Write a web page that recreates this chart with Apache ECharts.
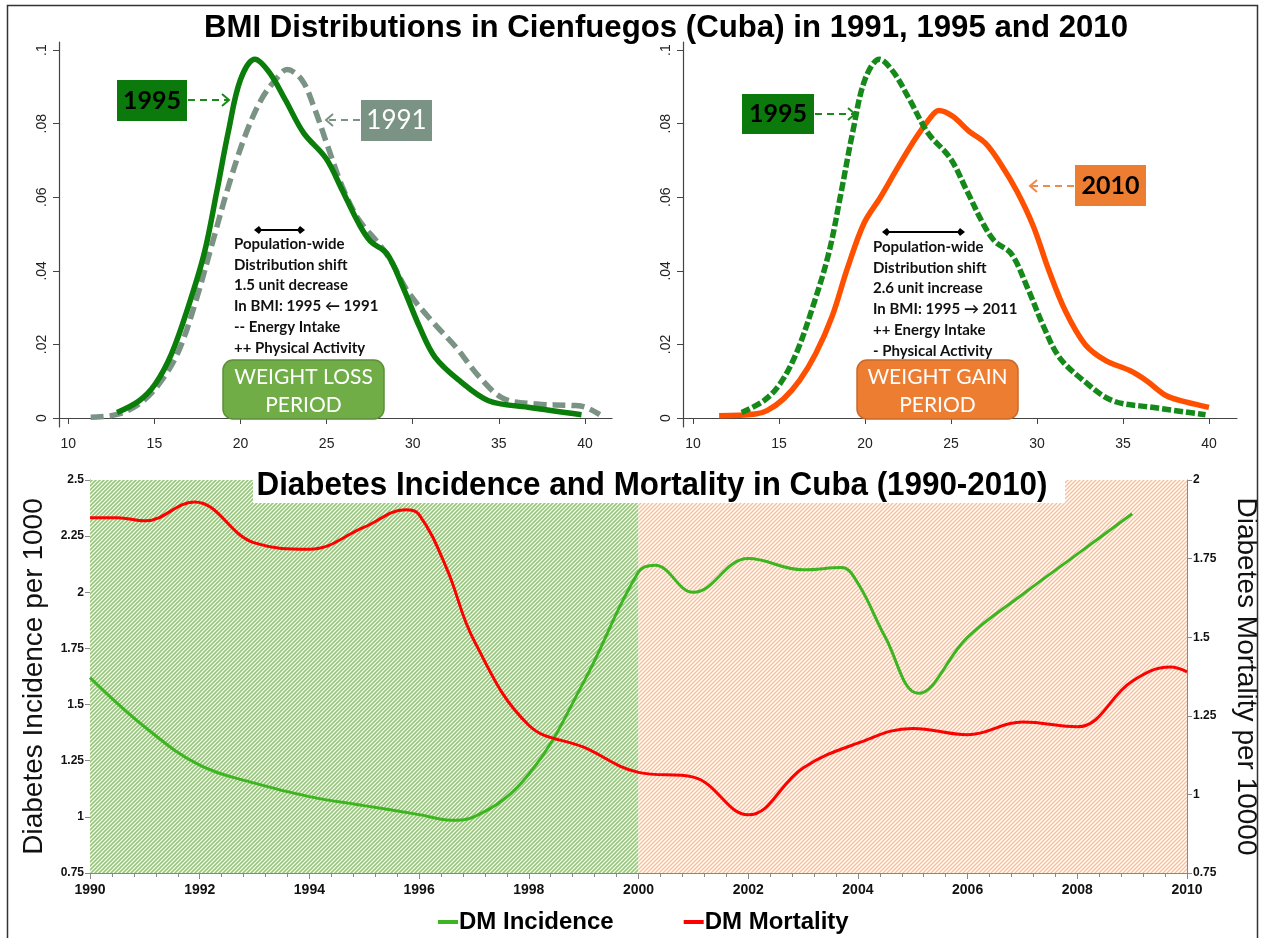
<!DOCTYPE html>
<html lang="en">
<head>
<meta charset="UTF-8">
<script src="https://cdn.jsdelivr.net/npm/echarts@6/dist/echarts.min.js"></script>
<style>
  html, body { margin: 0; padding: 0; background: #fff; }
  #main { width: 1263px; height: 938px; }
</style>
</head>
<body>
<div id="main"></div>
<script>
// BMI density curves (x = BMI, y = density)
var bmi1995X = [12.83, 14.12, 15.06, 16.0, 16.95, 17.89, 18.6, 19.3, 20.0, 20.84, 21.66, 22.6, 23.66, 24.96, 25.9, 26.85, 27.55, 28.5, 29.43, 30.4, 31.3, 32.7, 34.4, 36.7, 39.8];
var bmi1995Y = [0.0015, 0.0047, 0.0093, 0.0175, 0.030, 0.0447, 0.061, 0.078, 0.092, 0.0975, 0.094, 0.0865, 0.0775, 0.0706, 0.062, 0.053, 0.048, 0.0447, 0.0356, 0.0247, 0.0165, 0.0102, 0.0047, 0.0029, 0.0009];
var bmi1991X = [11.3, 12.95, 14.36, 15.54, 16.48, 17.42, 18.36, 19.3, 20.25, 21.2, 22.13, 22.7, 23.55, 24.25, 25.0, 25.9, 26.85, 28.0, 28.7, 29.67, 31.08, 32.5, 33.9, 35.3, 37.2, 39.3, 40.0, 40.86];
var bmi1991Y = [0.0002, 0.0011, 0.0047, 0.011, 0.019, 0.032, 0.0475, 0.063, 0.0765, 0.0865, 0.0925, 0.0947, 0.092, 0.0847, 0.0747, 0.063, 0.054, 0.0475, 0.043, 0.0347, 0.0265, 0.0193, 0.011, 0.0052, 0.0038, 0.0034, 0.003, 0.0009];
var bmi2010X = [11.52, 13.63, 14.3, 15.27, 16.2, 17.14, 18.08, 19.0, 19.95, 20.9, 21.83, 22.76, 23.7, 24.3, 25.1, 26.04, 27.0, 27.9, 28.85, 29.8, 30.7, 31.66, 32.8, 34.0, 35.4, 36.35, 37.5, 38.7, 40.0];
var bmi2010Y = [0.0006, 0.0011, 0.002, 0.0052, 0.0102, 0.0175, 0.0275, 0.041, 0.053, 0.060, 0.0675, 0.0747, 0.081, 0.0836, 0.082, 0.078, 0.0747, 0.069, 0.0615, 0.052, 0.040, 0.029, 0.020, 0.0156, 0.0129, 0.0102, 0.0061, 0.0043, 0.0029];
var bmiTicks = [10, 15, 20, 25, 30, 35, 40];
var densTicks = [0, 0.02, 0.04, 0.06, 0.08, 0.1];

// diabetes incidence (per 1000) and mortality (per 10000)
var incYears = [1990, 1991, 1992, 1993, 1994, 1995, 1996, 1996.6, 1997, 1998, 1999, 2000, 2000.3, 2001, 2002, 2003, 2003.7, 2004, 2004.5, 2005.1, 2006, 2007, 2008, 2009];
var incVals = [1.62, 1.40, 1.23, 1.15, 1.09, 1.05, 1.01, 0.985, 1.0, 1.19, 1.6, 2.09, 2.12, 2.0, 2.15, 2.10, 2.11, 2.04, 1.80, 1.55, 1.80, 1.99, 2.17, 2.35];
var mortYears = [1990, 1990.5, 1991, 1991.9, 1993, 1994, 1995, 1995.75, 1996, 1996.5, 1997, 1998, 1999, 2000, 2001, 2002, 2003, 2004, 2005, 2006, 2007, 2008, 2009, 2009.7, 2010];
var mortVals = [1.88, 1.88, 1.87, 1.93, 1.80, 1.78, 1.85, 1.905, 1.89, 1.72, 1.49, 1.22, 1.15, 1.07, 1.055, 0.935, 1.084, 1.163, 1.21, 1.19, 1.23, 1.215, 1.36, 1.405, 1.39];

function zip(xs, ys) {
    return xs.map(function (x, i) { return [x, ys[i]]; });
}

function hatch(stripe, w) {
    var c = document.createElement('canvas');
    c.width = 4; c.height = 4;
    var ctx = c.getContext('2d');
    ctx.fillStyle = '#fff';
    ctx.fillRect(0, 0, 4, 4);
    ctx.strokeStyle = stripe;
    ctx.lineWidth = w;
    ctx.beginPath();
    ctx.moveTo(-1, 5); ctx.lineTo(5, -1);
    ctx.moveTo(-1, 1); ctx.lineTo(1, -1);
    ctx.moveTo(3, 5); ctx.lineTo(5, 3);
    ctx.stroke();
    return c;
}

var sans = '"Liberation Sans", Arial, sans-serif';
var calib = 'Lato, "Open Sans", sans-serif';

function densX(idx, min, max) {
    return {
        type: 'value', gridIndex: idx, min: min, max: max,
        axisLine: { lineStyle: { color: '#444', width: 1.2 } },
        axisTick: { customValues: bmiTicks, length: 6, lineStyle: { color: '#444' } },
        axisLabel: { customValues: bmiTicks, color: '#222', fontSize: 14, fontFamily: sans, margin: 10 },
        splitLine: { show: false }
    };
}
function densY(idx) {
    return {
        type: 'value', gridIndex: idx, min: -0.00245, max: 0.1022,
        axisLine: { show: true, lineStyle: { color: '#444', width: 1.2 } },
        axisTick: { show: true, customValues: densTicks, length: 6, lineStyle: { color: '#444' } },
        axisLabel: {
            customValues: densTicks, rotate: 90, color: '#222', fontSize: 14,
            fontFamily: sans, margin: 10,
            formatter: function (v) { return v === 0 ? '0' : String(v).replace(/^0\./, '.'); }
        },
        splitLine: { show: false }
    };
}

function textLines(x, y0, lines) {
    return lines.map(function (t, i) {
        return {
            type: 'text', z: 100, x: x, y: y0 + i * 20.8,
            style: { text: t, font: 'bold 15px ' + calib, fill: '#111', textVerticalAlign: 'middle' }
        };
    });
}
function boxLabel(x, y, w, h, fill, text, color, weight, size) {
    return [
        { type: 'rect', z: 100, shape: { x: x, y: y, width: w, height: h }, style: { fill: fill } },
        { type: 'text', z: 101, x: x + w / 2, y: y + h / 2,
          style: { text: text, font: weight + ' ' + size + 'px ' + calib, fill: color, textAlign: 'center', textVerticalAlign: 'middle' } }
    ];
}
function dashArrow(x1, x2, y, color) {
    var d = x2 > x1 ? -1 : 1;
    return [
        { type: 'line', z: 100, shape: { x1: x1, y1: y, x2: x2, y2: y }, style: { stroke: color, lineWidth: 2, lineDash: [7, 5] } },
        { type: 'polyline', z: 100, shape: { points: [[x2 + d * 7, y - 6], [x2, y], [x2 + d * 7, y + 6]] }, style: { stroke: color, lineWidth: 2, fill: null } }
    ];
}
function dblArrow(x1, x2, y) {
    return [
        { type: 'line', z: 100, shape: { x1: x1 + 4, y1: y, x2: x2 - 4, y2: y }, style: { stroke: '#000', lineWidth: 2 } },
        { type: 'polygon', z: 100, shape: { points: [[x1, y], [x1 + 5, y - 4], [x1 + 8, y], [x1 + 5, y + 4]] }, style: { fill: '#000' } },
        { type: 'polygon', z: 100, shape: { points: [[x2, y], [x2 - 5, y - 4], [x2 - 8, y], [x2 - 5, y + 4]] }, style: { fill: '#000' } }
    ];
}
function periodBox(x, y, fill, stroke, l1) {
    return [
        { type: 'rect', z: 100, shape: { x: x, y: y, width: 161, height: 59, r: 10 }, style: { fill: fill, stroke: stroke, lineWidth: 1.5 } },
        { type: 'text', z: 101, x: x + 80.5, y: y + 17, style: { text: l1, font: '21px ' + calib, fill: '#fff', textAlign: 'center', textVerticalAlign: 'middle' } },
        { type: 'text', z: 101, x: x + 80.5, y: y + 45, style: { text: 'PERIOD', font: '21px ' + calib, fill: '#fff', textAlign: 'center', textVerticalAlign: 'middle' } }
    ];
}

var graphics = [].concat(
    [{ type: 'rect', z: 100, shape: { x: 7.5, y: 5.5, width: 1250, height: 945 }, style: { fill: null, stroke: '#333', lineWidth: 1.5 } },
     { type: 'text', z: 100, x: 666, y: 28, scaleX: 0.975, style: { text: 'BMI Distributions in Cienfuegos (Cuba) in 1991, 1995 and 2010', font: 'bold 32px ' + sans, fill: '#000', textAlign: 'center', textVerticalAlign: 'middle' } }],
    // left panel annotations
    boxLabel(117, 80, 70, 41, '#0b790b', '1995', '#000', 'bold', 25),
    dashArrow(188, 229, 100, '#1a8a1a'),
    boxLabel(361, 100, 71, 41, '#7a9384', '1991', '#fff', 'normal', 26),
    dashArrow(360, 326, 120, '#7a9384'),
    dblArrow(254, 305, 230),
    textLines(234, 244, ['Population-wide', 'Distribution shift', '1.5 unit decrease', 'In BMI: 1995 \u2190 1991', '-- Energy Intake', '++ Physical Activity']),
    periodBox(223, 360, '#70ad47', '#5b8f3a', 'WEIGHT LOSS'),
    // right panel annotations
    boxLabel(742, 94, 72, 40, '#0b790b', '1995', '#000', 'bold', 25),
    dashArrow(815, 855, 114, '#1a8a1a'),
    boxLabel(1075, 165, 71, 41, '#ed7d31', '2010', '#000', 'bold', 25),
    dashArrow(1074, 1030, 186, '#f08a4b'),
    dblArrow(882, 965, 232),
    textLines(873, 247, ['Population-wide', 'Distribution shift', '2.6 unit increase', 'In BMI: 1995 \u2192 2011', '++ Energy Intake', '- Physical Activity']),
    periodBox(857, 360, '#ed7d31', '#c8692a', 'WEIGHT GAIN'),
    // bottom title
    [{ type: 'rect', z: 100, shape: { x: 253, y: 463, width: 812, height: 40 }, style: { fill: '#fff' } },
     { type: 'text', z: 101, x: 652, y: 486, scaleX: 0.95, style: { text: 'Diabetes Incidence and Mortality in Cuba (1990-2010)', font: 'bold 33px ' + sans, fill: '#000', textAlign: 'center', textVerticalAlign: 'middle' } }]
);

var chart = echarts.init(document.getElementById('main'));
chart.setOption({
    animation: false,
    backgroundColor: '#fff',
    grid: [
        { left: 59, top: 42, width: 553, height: 385, outerBoundsMode: 'none' },
        { left: 683, top: 42, width: 554, height: 385, outerBoundsMode: 'none' },
        { left: 90, top: 480, width: 1097, height: 393, outerBoundsMode: 'none' }
    ],
    xAxis: [
        densX(0, 9.46, 41.57),
        densX(1, 9.42, 41.63),
        {
            type: 'value', gridIndex: 2, min: 1990, max: 2010, interval: 2,
            axisLine: { lineStyle: { color: '#888' } },
            axisTick: { length: 6, lineStyle: { color: '#888' } },
            minorTick: { show: true, splitNumber: 5, length: 4, lineStyle: { color: '#888' } },
            axisLabel: { color: '#111', fontSize: 14, fontWeight: 'bold', fontFamily: sans, margin: 10,
                         formatter: function (v) { return String(v); } },
            splitLine: { show: false }
        }
    ],
    yAxis: [
        densY(0),
        densY(1),
        {
            type: 'value', gridIndex: 2, min: 0.75, max: 2.5, interval: 0.25,
            name: 'Diabetes Incidence per 1000', nameLocation: 'middle', nameGap: 42, nameRotate: 90,
            nameTextStyle: { fontSize: 28, color: '#111', fontFamily: sans },
            axisLine: { show: true, lineStyle: { color: '#888' } },
            axisTick: { show: true, length: 5, lineStyle: { color: '#888' } },
            axisLabel: { color: '#111', fontSize: 12, fontWeight: 'bold', fontFamily: sans, margin: 6 },
            splitLine: { show: false }
        },
        {
            type: 'value', gridIndex: 2, position: 'right', min: 0.75, max: 2, interval: 0.25,
            name: 'Diabetes Mortality per 10000', nameLocation: 'middle', nameGap: 45, nameRotate: -90,
            nameTextStyle: { fontSize: 28, color: '#111', fontFamily: sans },
            axisLine: { show: true, lineStyle: { color: '#888' } },
            axisTick: { show: true, length: 5, lineStyle: { color: '#888' } },
            axisLabel: { color: '#111', fontSize: 12, fontWeight: 'bold', fontFamily: sans, margin: 6 },
            splitLine: { show: false }
        }
    ],
    legend: {
        data: ['DM Incidence', 'DM Mortality'],
        left: 433, top: 905, itemGap: 70, itemWidth: 20, itemHeight: 4, icon: 'rect',
        textStyle: { fontSize: 24, fontWeight: 'bold', color: '#000', fontFamily: sans, padding: [0, 0, 0, -4] }
    },
    graphic: graphics,
    series: [
        {
            name: '1991', type: 'line', xAxisIndex: 0, yAxisIndex: 0, data: zip(bmi1991X, bmi1991Y),
            smooth: 0.35, showSymbol: false, z: 3,
            lineStyle: { color: '#7a9384', width: 5.5, type: [13, 6] }
        },
        {
            name: '1995', type: 'line', xAxisIndex: 0, yAxisIndex: 0, data: zip(bmi1995X, bmi1995Y),
            smooth: 0.35, showSymbol: false, z: 4,
            lineStyle: { color: '#0a7d0a', width: 5.5 }
        },
        {
            name: '2010', type: 'line', xAxisIndex: 1, yAxisIndex: 1, data: zip(bmi2010X, bmi2010Y),
            smooth: 0.35, showSymbol: false, z: 3,
            lineStyle: { color: '#ff5000', width: 5.5 }
        },
        {
            name: '1995 ', type: 'line', xAxisIndex: 1, yAxisIndex: 1, data: zip(bmi1995X, bmi1995Y),
            smooth: 0.35, showSymbol: false, z: 4,
            lineStyle: { color: '#15891a', width: 5.5, type: [9, 3] }
        },
        {
            name: 'periods', type: 'line', xAxisIndex: 2, yAxisIndex: 2, data: [], z: 1,
            markArea: {
                silent: true,
                data: [
                    [{ xAxis: 1990, itemStyle: { color: { image: hatch('#96c679', 1.6), repeat: 'repeat' } } }, { xAxis: 2000 }],
                    [{ xAxis: 2000, itemStyle: { color: { image: hatch('#f6bf9b', 1.4), repeat: 'repeat' } } }, { xAxis: 2010 }]
                ]
            }
        },
        {
            name: 'DM Incidence', type: 'line', xAxisIndex: 2, yAxisIndex: 2, data: zip(incYears, incVals),
            smooth: 0.4, showSymbol: false, z: 5, color: '#3cb521',
            lineStyle: { color: '#3cb521', width: 3 }
        },
        {
            name: 'DM Mortality', type: 'line', xAxisIndex: 2, yAxisIndex: 3, data: zip(mortYears, mortVals),
            smooth: 0.4, showSymbol: false, z: 5, color: '#ff0000',
            lineStyle: { color: '#ff0000', width: 3 }
        }
    ]
});
</script>
</body>
</html>
